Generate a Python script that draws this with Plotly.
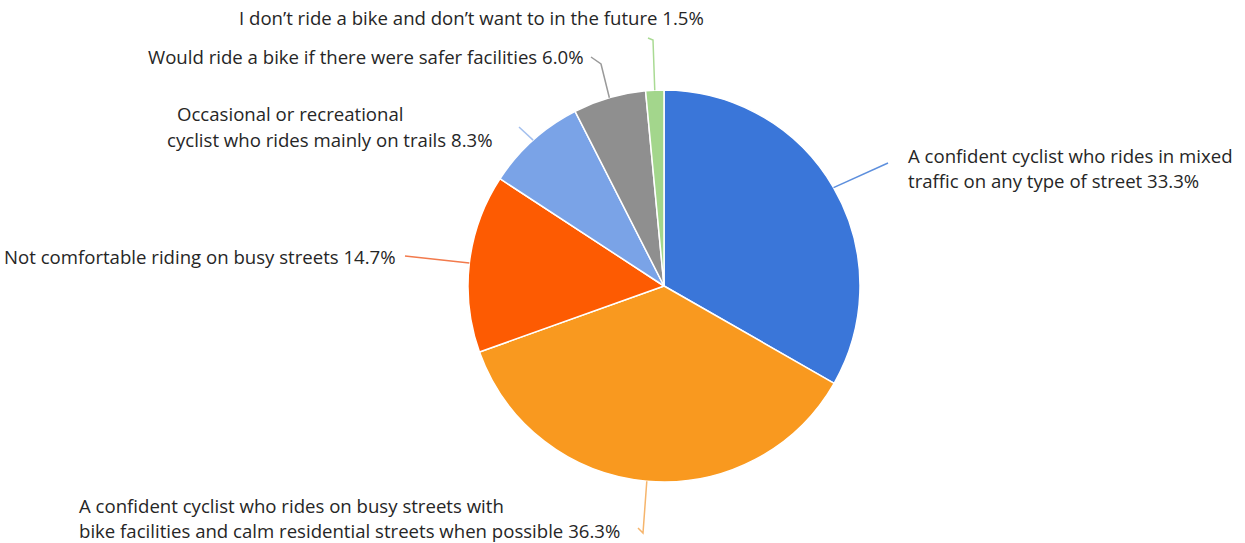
import math
import plotly.graph_objects as go

W, H = 1245, 543

# Survey shares, clockwise from 12 o'clock
labels = [
    "A confident cyclist who rides in mixed traffic on any type of street",
    "A confident cyclist who rides on busy streets with bike facilities and calm residential streets when possible",
    "Not comfortable riding on busy streets",
    "Occasional or recreational cyclist who rides mainly on trails",
    "Would ride a bike if there were safer facilities",
    "I don\u2019t ride a bike and don\u2019t want to in the future",
]
values = [33.3, 36.3, 14.7, 8.3, 6.0, 1.5]
colors = ["#3a76d9", "#f9991f", "#fd5b02", "#7aa3e7", "#8f8f8f", "#a3d68c"]
line_colors = ["#5d8fdd", "#f6b56c", "#f27a4c", "#a4c0ee", "#9a9a9a", "#a9da93"]

# label text lines, one list per slice
label_lines = [
    ["A confident cyclist who rides in mixed", "traffic on any type of street 33.3%"],
    ["A confident cyclist who rides on busy streets with",
     "bike facilities and calm residential streets when possible 36.3%"],
    ["Not comfortable riding on busy streets 14.7%"],
    ["Occasional or recreational", "cyclist who rides mainly on trails 8.3%"],
    ["Would ride a bike if there were safer facilities 6.0%"],
    ["I don\u2019t ride a bike and don\u2019t want to in the future 1.5%"],
]

# pie geometry in pixels
CX, CY, R = 664, 286, 196


def px(x):
    return x / W


def py(y):
    return 1 - y / H


fig = go.Figure(go.Pie(
    labels=labels,
    values=values,
    sort=False,
    direction="clockwise",
    rotation=0,
    textinfo="none",
    marker=dict(colors=colors, line=dict(color="white", width=1.5)),
    domain=dict(x=[px(CX - R), px(CX + R)], y=[py(CY + R), py(CY - R)]),
    showlegend=False,
))

# mid-angle anchor point on the rim for every slice
total = sum(values)
anchors = []
cum = 0.0
for v in values:
    mid = (cum + v / 2) / total * 2 * math.pi
    anchors.append((CX + R * math.sin(mid), CY - R * math.cos(mid)))
    cum += v

# leader-line waypoints after the rim anchor (pixels)
leader_paths = [
    [(888, 163)],
    [(643, 533), (638, 528)],
    [(405, 256)],
    [(519, 127)],
    [(601, 64), (591, 57)],
    [(653, 40), (648, 38)],
]

shapes = []
for (ax, ay), pts, col in zip(anchors, leader_paths, line_colors):
    path = f"M {px(ax)} {py(ay)}"
    for x, y in pts:
        path += f" L {px(x)} {py(y)}"
    shapes.append(dict(type="path", path=path, xref="paper", yref="paper",
                       line=dict(color=col, width=1.5)))

# text placement: (x, y_center, xanchor) per line
text_pos = [
    [(906, 155, "left"), (906, 181, "left")],
    [(77, 505, "left"), (77, 530, "left")],
    [(398, 256, "right")],
    [(175, 113, "left"), (165, 139, "left")],
    [(586, 57, "right")],
    [(706, 17, "right")],
]

annotations = []
for lines, poss in zip(label_lines, text_pos):
    for t, (x, y, xa) in zip(lines, poss):
        annotations.append(dict(
            text=t, x=px(x), y=py(y), xref="paper", yref="paper",
            xanchor=xa, yanchor="middle", showarrow=False,
            font=dict(family="Open Sans", size=18.6, color="#262626"),
        ))

fig.update_layout(
    width=W, height=H,
    margin=dict(l=0, r=0, t=0, b=0),
    paper_bgcolor="white",
    plot_bgcolor="white",
    shapes=shapes,
    annotations=annotations,
)

fig.write_html("out.html")
